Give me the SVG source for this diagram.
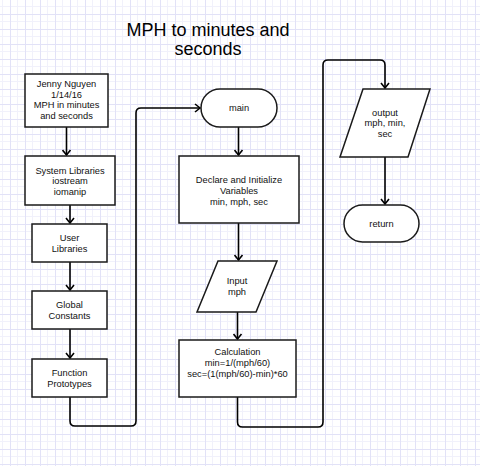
<svg xmlns="http://www.w3.org/2000/svg" width="480" height="466" viewBox="0 0 480 466">
<defs>
<pattern id="grid" patternUnits="userSpaceOnUse" x="10" y="14" width="15" height="15">
<rect width="15" height="15" fill="#fff"/>
<path d="M7.5 0V15M0 7.5H15" stroke="#f1f1fb" stroke-width="1"/>
<path d="M0.5 0V15M0 0.5H15" stroke="#e2e2f7" stroke-width="1"/>
</pattern>
<marker id="arr" markerWidth="10" markerHeight="10" refX="6" refY="5" orient="auto" markerUnits="userSpaceOnUse">
<path d="M1,1 L6,5 L1,9" fill="none" stroke="#000" stroke-width="1.6"/>
</marker>
<style>
.box{fill:#fff;stroke:#1a1a1a;stroke-width:1.5}
.t{font-family:"Liberation Sans",Arial,sans-serif;font-size:9.3px;fill:#111;text-anchor:middle}
.title{font-family:"Liberation Sans",Arial,sans-serif;font-size:18px;fill:#000;text-anchor:middle}
.c{fill:none;stroke:#000;stroke-width:1.6;marker-end:url(#arr)}
</style>
</defs>
<rect x="-0.5" y="-0.5" width="481" height="467" fill="url(#grid)"/>
<g id="title">
<text class="title" x="208" y="36">MPH to minutes and</text>
<text class="title" x="208" y="55">seconds</text>
</g>
<g id="connectors">
<path class="c" d="M66.5 127V155"/>
<path class="c" d="M70 205V223"/>
<path class="c" d="M70 262V290"/>
<path class="c" d="M70 329V358"/>
<path class="c" d="M70 397V421Q70 426 75 426H131Q136 426 136 421V113Q136 108 141 108H200"/>
<path class="c" d="M238.5 127V155"/>
<path class="c" d="M238.5 223V260"/>
<path class="c" d="M237.5 312V339"/>
<path class="c" d="M237.5 397V422Q237.5 427 242.5 427H318Q323 427 323 422V65Q323 60 328 60H380Q385 60 385 65V88"/>
<path class="c" d="M385 157V204"/>
</g>
<g id="header">
<rect class="box" x="25" y="74" width="83" height="53"/>
<text class="t" x="66.5" y="87">Jenny Nguyen</text>
<text class="t" x="66.5" y="97.5">1/14/16</text>
<text class="t" x="66.5" y="108">MPH in minutes</text>
<text class="t" x="66.5" y="118.5">and seconds</text>
</g>
<g id="syslib">
<rect class="box" x="25" y="156" width="90" height="49"/>
<text class="t" x="70" y="173.5">System Libraries</text>
<text class="t" x="70" y="184">iostream</text>
<text class="t" x="70" y="194.5">iomanip</text>
</g>
<g id="userlib">
<rect class="box" x="32" y="224" width="75" height="38"/>
<text class="t" x="69.5" y="240.5">User</text>
<text class="t" x="69.5" y="251.5">Libraries</text>
</g>
<g id="globals">
<rect class="box" x="32" y="291" width="75" height="38"/>
<text class="t" x="69.5" y="307.5">Global</text>
<text class="t" x="69.5" y="318.5">Constants</text>
</g>
<g id="protos">
<rect class="box" x="32" y="359" width="75" height="38"/>
<text class="t" x="69.5" y="375.5">Function</text>
<text class="t" x="69.5" y="386.5">Prototypes</text>
</g>
<g id="main">
<rect class="box" x="201" y="89" width="76" height="38" rx="19"/>
<text class="t" x="239" y="111">main</text>
</g>
<g id="declare">
<rect class="box" x="179" y="156" width="120" height="67"/>
<text class="t" x="239" y="183">Declare and Initialize</text>
<text class="t" x="239" y="194">Variables</text>
<text class="t" x="239" y="205">min, mph, sec</text>
</g>
<g id="input">
<polygon class="box" points="218,261 277,261 256,312 197,312"/>
<text class="t" x="237" y="284">Input</text>
<text class="t" x="237" y="295">mph</text>
</g>
<g id="calc">
<rect class="box" x="179" y="340" width="117" height="57"/>
<text class="t" x="237.5" y="355">Calculation</text>
<text class="t" x="237.5" y="366">min=1/(mph/60)</text>
<text class="t" x="237.5" y="377">sec=(1(mph/60)-min)*60</text>
</g>
<g id="output">
<polygon class="box" points="363,89 430,89 408,157 340,157"/>
<text class="t" x="385" y="115.5">output</text>
<text class="t" x="385" y="126">mph, min,</text>
<text class="t" x="385" y="136.5">sec</text>
</g>
<g id="return">
<rect class="box" x="344" y="205" width="75" height="37" rx="18.5"/>
<text class="t" x="381.5" y="227">return</text>
</g>
</svg>
